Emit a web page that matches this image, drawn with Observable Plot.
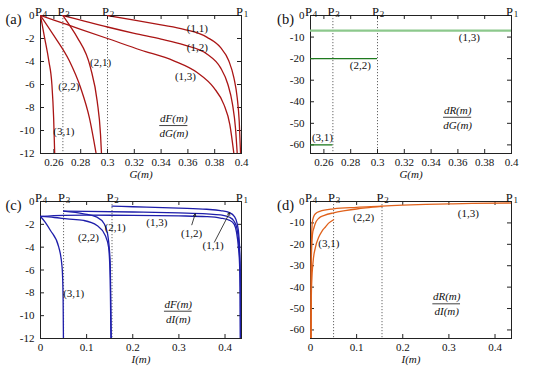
<!DOCTYPE html>
<html><head><meta charset="utf-8">
<script src="https://cdn.jsdelivr.net/npm/d3@7"></script>
<script src="https://cdn.jsdelivr.net/npm/@observablehq/plot@0.6"></script>
<style>
body{margin:0;background:#fff;}
#wrap{position:relative;width:535px;height:371px;overflow:hidden;background:#fff;}
#wrap svg{position:absolute;}
#wrap svg, #wrap svg text{font-family:"Liberation Serif","DejaVu Serif",serif !important;}
</style></head><body><div id="wrap"></div>
<script>
// ---- data ----
const pNames = ["1","2","3","4"];           // P subscripts, P1..P4
const PG = [0.4, 0.3, 0.2667, 0.25];      // P1..P4 in G(m)
const PI = [0.435, 0.155, 0.05, 0];       // P1..P4 in I(m)
const gTicks = [0.26,0.28,0.3,0.32,0.34,0.36,0.38,0.4];
const iTicks = [0,0.1,0.2,0.3,0.4];
const yTicksF = [0,-2,-4,-6,-8,-10,-12];
const yTicksR = [0,-10,-20,-30,-40,-50,-60];

// (a) dF/dG vs G
const a11 = [[0.3,0],[0.32,-0.4],[0.34,-0.82],[0.357,-1.2],[0.3744,-1.9],[0.3843,-2.78],[0.3905,-3.94],[0.3943,-5.4],[0.3968,-7.15],[0.3983,-9.2],[0.3993,-12]];
const a12 = [[0.2667,0],[0.28,-0.4],[0.3,-1.0],[0.32,-1.55],[0.34,-2.05],[0.357,-2.55],[0.3744,-3.36],[0.3843,-4.53],[0.3898,-5.98],[0.3933,-7.73],[0.3955,-9.78],[0.3968,-12]];
const a13 = [[0.25,0],[0.27,-0.8],[0.3,-2.0],[0.3246,-3.0],[0.3495,-3.94],[0.3669,-4.96],[0.3793,-6.28],[0.3868,-7.73],[0.3913,-9.49],[0.3943,-12]];
const a21 = [[0.2667,0],[0.272,-0.9],[0.2774,-1.9],[0.2873,-4.53],[0.2923,-7.45],[0.2948,-10.36],[0.2955,-12]];
const a22 = [[0.25,0],[0.26,-1.75],[0.2715,-3.94],[0.28,-6.3],[0.2865,-8.9],[0.2915,-12]];
const a31 = [[0.25,0],[0.253,-1.9],[0.2562,-3.94],[0.2585,-6.0],[0.2598,-8.9],[0.2606,-12]];

// (b) dR/dG vs G (constant levels)
const bNames = ["(1,3)","(2,2)","(3,1)"];
const bLevels = [-7, -20, -60];
const bEnds = [0.4, 0.3, 0.2667];

// (c) dF/dI vs I
const c11 = [[0.155,-0.41],[0.2,-0.46],[0.3,-0.58],[0.36,-0.68],[0.39,-0.8],[0.41,-0.98],[0.42,-1.3],[0.426,-1.9],[0.43,-3.0],[0.432,-4.5],[0.4333,-7],[0.4337,-12]];
const c12 = [[0.0503,-0.85],[0.1,-0.87],[0.2,-0.92],[0.3,-1.0],[0.36,-1.08],[0.39,-1.18],[0.41,-1.38],[0.42,-1.75],[0.426,-2.4],[0.4295,-3.5],[0.4318,-5],[0.4331,-7.5],[0.4335,-12]];
const c13 = [[0,-1.31],[0.05,-1.22],[0.1,-1.2],[0.2,-1.21],[0.3,-1.26],[0.36,-1.33],[0.39,-1.45],[0.41,-1.65],[0.42,-2.0],[0.425,-2.7],[0.429,-4.0],[0.4315,-5.5],[0.433,-8],[0.4334,-12]];
const c21 = [[0.0503,-0.85],[0.0935,-1.08],[0.1224,-1.37],[0.138,-1.95],[0.1454,-2.83],[0.1512,-5.46],[0.1534,-12]];
const c22 = [[0,-1.31],[0.03,-1.4],[0.0577,-1.52],[0.0935,-1.66],[0.1224,-2.1],[0.1404,-2.98],[0.1476,-4.0],[0.1512,-6.9],[0.1527,-12]];
const c31 = [[0,-1.31],[0.01,-1.8],[0.0216,-2.54],[0.0396,-4.0],[0.0468,-5.75],[0.049,-8.4],[0.0497,-12]];

// (d) dR/dI vs I
const d13 = [[0.0012,-64],[0.0014,-45],[0.0017,-30],[0.0024,-18],[0.0038,-10],[0.007,-7],[0.0108,-5.7],[0.02,-4.6],[0.05,-3.4],[0.1,-2.7],[0.155,-2.2],[0.2,-1.7],[0.25,-1.3],[0.3,-1.1],[0.35,-0.9],[0.435,-0.7]];
const d22 = [[0.0011,-64],[0.0013,-45],[0.0016,-32],[0.0025,-21],[0.0045,-15],[0.0072,-12.5],[0.012,-9.5],[0.018,-7.8],[0.03,-6.5],[0.05,-5.3],[0.075,-4.3],[0.1,-3.5],[0.12,-3.0],[0.155,-2.3]];
const d31 = [[0.001,-64],[0.0013,-55],[0.0018,-44.5],[0.0028,-37],[0.0052,-29],[0.0108,-21.3],[0.018,-16.6],[0.025,-13.8],[0.0324,-11.9],[0.04,-10],[0.05,-8.5]];

// annotations
const labA = [["(1,1)",0.367,-1.17],["(1,2)",0.367,-2.78],["(1,3)",0.3582,-5.26],["(2,1)",0.2948,-4.09],["(2,2)",0.2711,-6.13],["(3,1)",0.2674,-10.07]];
const labB = [["(1,3)",0.3685,-10.0],["(2,2)",0.2872,-23.2],["(3,1)",0.2589,-56.4]];
const labC = [["(1,3)",0.252,-1.81],["(2,2)",0.104,-3.13],["(2,1)",0.162,-2.25],["(3,1)",0.072,-8.03],["(1,2)",0.3276,-2.83],["(1,1)",0.374,-3.85]];
const arrC = [[0.328,-2.04,0.3354,-1.08],[0.377,-3.56,0.41,-0.99]];
const labD = [["(1,3)",0.342,-5.7],["(2,2)",0.115,-7.3],["(3,1)",0.0396,-19.7]];

// ---- drawing ----
const SERIF = "Liberation Serif";
const wrap = document.getElementById("wrap");
const RED = "#aa1515", BLUE = "#1e1eaa", GREEN = "#1f7a1f", LGREEN = "#8cc88c", ORANGE = "#e0621c";
const toPts = (arr, k) => arr.map(([x,y]) => ({x, y, k}));

function panel(o) {
  const pw = o.w - o.ml - o.mr, ph = o.h - o.mt - o.mb;
  const xfmt = d => String(d);
  const svg = Plot.plot({
    width: o.w, height: o.h,
    marginLeft: o.ml, marginRight: o.mr, marginTop: o.mt, marginBottom: o.mb,
    x: {domain: o.xDomain},
    y: {domain: o.yDomain},
    style: {fontFamily: SERIF, fontSize: "11px", color: "#111", background: "transparent", overflow: "visible"},
    marks: [
      Plot.ruleX([o.P[1], o.P[2]], {x: d => d, stroke: "#555", strokeDasharray: "1.2,1.8", strokeWidth: 0.9}),
      Plot.frame({stroke: "#222", strokeWidth: 1}),
      Plot.tickX(o.xTicks, {x: d => d, insetTop: ph - 4, stroke: "#222"}),
      Plot.tickX(o.xTicks, {x: d => d, insetBottom: ph - 4, stroke: "#222"}),
      Plot.tickY(o.yTicks, {y: d => d, insetRight: pw - 4, stroke: "#222"}),
      Plot.tickY(o.yTicks, {y: d => d, insetLeft: pw - 4, stroke: "#222"}),
      ...o.marks,
      Plot.axisX(o.xTicks, {tickSize: 0, tickPadding: 5, label: null, tickFormat: xfmt, fontSize: 11}),
      Plot.axisY(o.yTicks, {tickSize: 0, tickPadding: 6, label: null, tickFormat: xfmt, fontSize: 11}),
      Plot.text(o.P, {x: d => d, text: () => "P", frameAnchor: "top", dy: -8, dx: -2, fontSize: 12.5}),
      Plot.text(o.P, {x: d => d, text: (d, i) => pNames[i], frameAnchor: "top", dy: -5, dx: 4.5, fontSize: 9}),
      Plot.text([o.letter], {frameAnchor: "top-left", dx: o.letterDx, dy: -2, fontSize: 14.5, textAnchor: "middle"}),
      Plot.text([o.xlabel], {frameAnchor: "bottom", dy: 24, fontStyle: "italic", fontSize: 11}),
      Plot.text(o.labels, {x: d => d[1], y: d => d[2], text: d => d[0], fontSize: 11}),
      Plot.ruleY([o.frac], {y: d => d.y, x1: d => d.x - d.hw, x2: d => d.x + d.hw, stroke: "#111", strokeWidth: 0.8}),
      Plot.text([o.frac], {x: "x", y: "y", text: "num", dy: -7, fontStyle: "italic", fontSize: 11}),
      Plot.text([o.frac], {x: "x", y: "y", text: "den", dy: 8, fontStyle: "italic", fontSize: 11}),
      ...(o.extra || [])
    ]
  });
  svg.style.left = o.left + "px";
  svg.style.top = o.top + "px";
  wrap.append(svg);
}

const lineOpts = (stroke) => ({x: "x", y: "y", z: "k", stroke, strokeWidth: 1.3, curve: "monotone-x", clip: true});

// (a)
panel({
  left: 0, top: 0, w: 267, h: 185, ml: 40, mr: 26, mt: 15, mb: 32,
  xDomain: [0.25, 0.4], yDomain: [-12, 0], xTicks: gTicks, yTicks: yTicksF, P: PG,
  letter: "(a)", letterDx: -27, xlabel: "G(m)",
  labels: labA,
  frac: {x: 0.3495, y: -9.57, hw: 0.0105, num: "dF(m)", den: "dG(m)"},
  marks: [Plot.line([...toPts(a11,"11"),...toPts(a12,"12"),...toPts(a13,"13"),...toPts(a21,"21"),...toPts(a22,"22"),...toPts(a31,"31")], lineOpts(RED))]
});

// (b)
const bData = bNames.map((n, i) => ({n, y: bLevels[i], x1: PG[3], x2: bEnds[i]}));
panel({
  left: 268, top: 0, w: 267, h: 185, ml: 42, mr: 24, mt: 15, mb: 32,
  xDomain: [0.25, 0.4], yDomain: [-64, 0], xTicks: gTicks, yTicks: yTicksR, P: PG,
  letter: "(b)", letterDx: -25, xlabel: "G(m)",
  labels: labB,
  frac: {x: 0.3598, y: -47.2, hw: 0.0105, num: "dR(m)", den: "dG(m)"},
  marks: [
    Plot.ruleY(bData.slice(0,1), {y: "y", x1: "x1", x2: "x2", stroke: LGREEN, strokeWidth: 2.4}),
    Plot.ruleY(bData.slice(1), {y: "y", x1: "x1", x2: "x2", stroke: GREEN, strokeWidth: 1.3})
  ]
});

// (c)
panel({
  left: 0, top: 185, w: 267, h: 186, ml: 40, mr: 26, mt: 16, mb: 33,
  xDomain: [0, 0.4357], yDomain: [-12, 0], xTicks: iTicks, yTicks: yTicksF, P: PI,
  letter: "(c)", letterDx: -27, xlabel: "I(m)",
  labels: labC,
  frac: {x: 0.2987, y: -9.61, hw: 0.03, num: "dF(m)", den: "dI(m)"},
  marks: [Plot.line([...toPts(c11,"11"),...toPts(c12,"12"),...toPts(c13,"13"),...toPts(c21,"21"),...toPts(c22,"22"),...toPts(c31,"31")], lineOpts(BLUE))],
  extra: [Plot.arrow(arrC, {x1: d => d[0], y1: d => d[1], x2: d => d[2], y2: d => d[3], stroke: "#111", strokeWidth: 0.8, headLength: 5})]
});

// (d)
panel({
  left: 268, top: 185, w: 267, h: 186, ml: 42, mr: 24, mt: 16, mb: 33,
  xDomain: [0, 0.4357], yDomain: [-64, 0], xTicks: iTicks, yTicks: yTicksR, P: PI,
  letter: "(d)", letterDx: -25, xlabel: "I(m)",
  labels: labD,
  frac: {x: 0.2952, y: -47.8, hw: 0.03, num: "dR(m)", den: "dI(m)"},
  marks: [Plot.line([...toPts(d13,"13"),...toPts(d22,"22"),...toPts(d31,"31")], lineOpts(ORANGE))]
});
</script>
</body></html>
